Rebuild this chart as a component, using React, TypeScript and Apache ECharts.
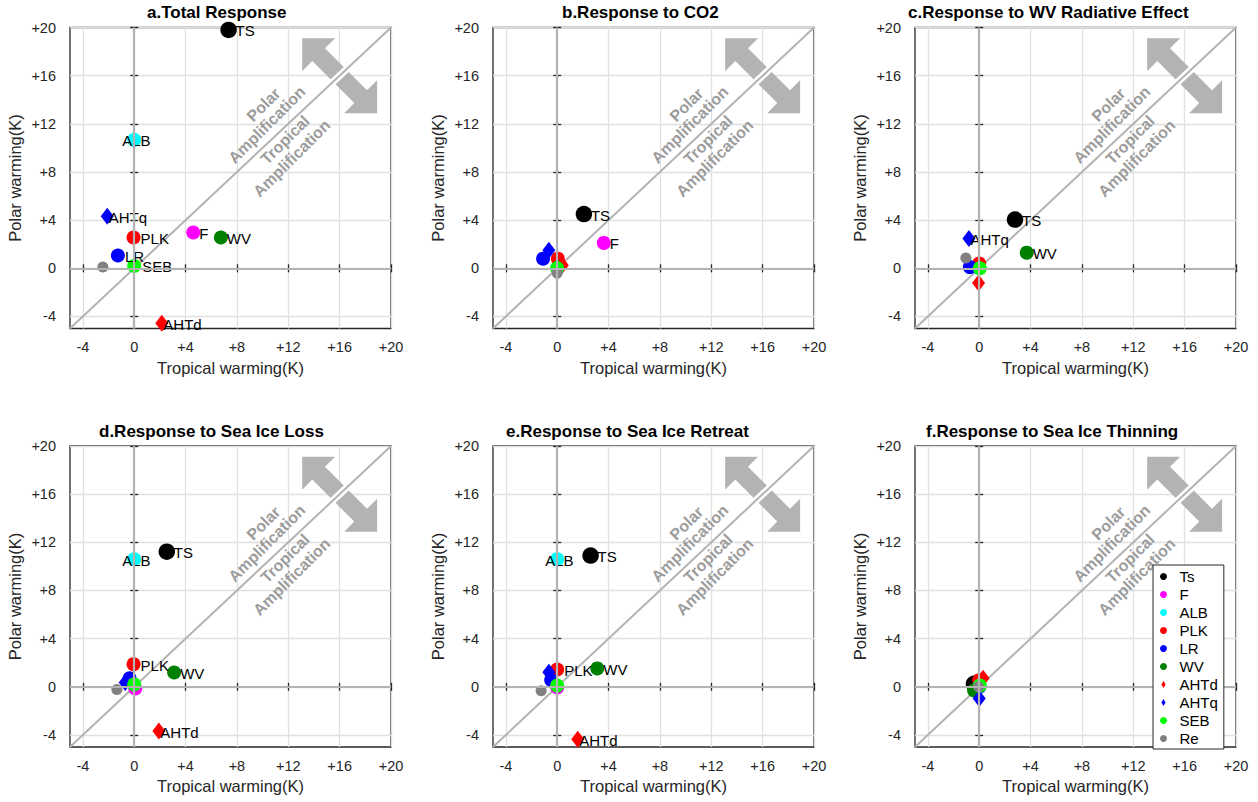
import React, { useEffect, useRef } from "react";
import * as echarts from "echarts";

// ---------- data ----------
const TERMS = ["Ts", "F", "ALB", "PLK", "LR", "WV", "AHTd", "AHTq", "SEB", "Re"];
const POINT_LABELS = ["TS", "F", "ALB", "PLK", "LR", "WV", "AHTd", "AHTq", "SEB", "Re"];
const TERM_COLORS = ["#000000", "#ff00ff", "#00ffff", "#ff0000", "#0000ff", "#008000", "#ff0000", "#0000ff", "#00ff00", "#808080"];
const TERM_SHAPES = ["circle", "circle", "circle", "circle", "circle", "circle", "diamond", "diamond", "circle", "circle"];

const PANEL_TITLES = [
  "a.Total Response",
  "b.Response to CO2",
  "c.Response to WV Radiative Effect",
  "d.Response to Sea Ice Loss",
  "e.Response to Sea Ice Retreat",
  "f.Response to Sea Ice Thinning",
];

// order: Ts, F, ALB, PLK, LR, WV, AHTd, AHTq, SEB, Re
const A_X = [7.35, 4.6, 0.0, -0.05, -1.27, 6.75, 2.15, -2.1, 0.0, -2.44];
const A_Y = [19.8, 2.97, 10.67, 2.56, 1.06, 2.56, -4.56, 4.33, 0.2, 0.11];
const A_LABELED = [1, 1, 1, 1, 1, 1, 1, 1, 1, 0];

const B_X = [2.08, 3.63, 0.0, 0.05, -1.1, 0.1, 0.4, -0.65, 0.0, 0.0];
const B_Y = [4.5, 2.11, 0.05, 0.8, 0.8, 0.1, 0.25, 1.5, 0.0, -0.4];
const B_LABELED = [1, 1, 0, 0, 0, 0, 0, 0, 0, 0];

const C_X = [2.79, 0.0, 0.0, 0.0, -0.73, 3.7, -0.05, -0.8, 0.05, -1.04];
const C_Y = [4.05, 0.0, 0.0, 0.4, 0.1, 1.3, -1.22, 2.47, 0.0, 0.86];
const C_LABELED = [1, 0, 0, 0, 0, 1, 0, 1, 0, 0];

const D_X = [2.54, 0.08, 0.0, -0.05, -0.36, 3.11, 1.92, -0.7, 0.0, -1.35];
const D_Y = [11.22, -0.14, 10.6, 1.88, 0.7, 1.19, -3.68, 0.36, 0.2, -0.22];
const D_LABELED = [1, 0, 1, 1, 0, 1, 1, 0, 0, 0];

const E_X = [2.6, 0.0, 0.0, 0.0, -0.47, 3.12, 1.6, -0.65, 0.0, -1.25];
const E_Y = [10.9, -0.05, 10.6, 1.44, 0.56, 1.53, -4.35, 1.2, 0.1, -0.33];
const E_LABELED = [1, 0, 1, 1, 0, 1, 1, 0, 0, 0];

const F_X = [-0.41, 0.0, 0.0, 0.0, 0.0, -0.4, 0.3, 0.0, 0.05, -0.05];
const F_Y = [0.25, 0.0, 0.0, 0.55, 0.0, -0.3, 0.7, -0.97, 0.1, 0.0];
const F_LABELED = [0, 0, 0, 0, 0, 0, 0, 0, 0, 0];

const PANEL_X = [A_X, B_X, C_X, D_X, E_X, F_X];
const PANEL_Y = [A_Y, B_Y, C_Y, D_Y, E_Y, F_Y];
const PANEL_LABELED = [A_LABELED, B_LABELED, C_LABELED, D_LABELED, E_LABELED, F_LABELED];

const AXIS_MIN = -5;
const AXIS_MAX = 20;
const TICKS = [-4, 0, 4, 8, 12, 16, 20];
const TICK_LABELS = ["-4", "0", "+4", "+8", "+12", "+16", "+20"];
const DIAGONAL = [[AXIS_MIN, AXIS_MIN], [AXIS_MAX, AXIS_MAX]];

// annotation anchors (data coords)
const ARROW_CENTER = [16, 16];
const GAP_FROM = [15.1, 15.1];
const GAP_TO = [16.9, 16.9];
const ANNOT_TEXTS = ["Polar", "Amplification", "Tropical", "Amplification"];
const ANNOT_POS = [[10.06, 13.58], [10.33, 11.92], [11.75, 10.67], [12.27, 9.14]];

// ---------- styling / layout ----------
const FONT = "'Liberation Sans', Arial, Helvetica, sans-serif";
const AX = "#262626";
const GRID_LEFT = [70, 493, 915];
const GRID_TOP = [27.5, 446];
const GRID_W = 321;
const GRID_H = 301;
const TITLE_LEFT = [147, 562, 908, 99, 506, 926];
const TITLE_TOP = [4, 423];
const LABEL_DX: Record<string, number> = { TS: 7, F: 6, ALB: -12, PLK: 7, LR: 7, WV: 6, AHTd: 1.5, AHTq: 1.5, SEB: 8, Re: 6 };
const DIAMOND_ICON = "path://M0,-5L3,0L0,5L-3,0Z";

function symbolSizeFor(k: number): number | number[] {
  if (TERM_SHAPES[k] === "diamond") return [13, 17];
  if (TERMS[k] === "Ts") return 16.5;
  if (TERMS[k] === "Re") return 11;
  return 14;
}

function tickFormatter(v: number) {
  const i = TICKS.indexOf(v);
  return i >= 0 ? TICK_LABELS[i] : "";
}

function annotationRender(params: any, api: any) {
  const c = api.coord(ARROW_CENTER);
  const s = Math.SQRT1_2;
  const P = (a: number, b: number) => [c[0] + (a + b) * s, c[1] + (a - b) * s];
  const L = 53, HL = 23.3, HW = 23.3, SW = 9;
  const pts = [
    P(-L, 0), P(-L + HL, HW), P(-L + HL, SW), P(L - HL, SW), P(L - HL, HW),
    P(L, 0), P(L - HL, -HW), P(L - HL, -SW), P(-L + HL, -SW), P(-L + HL, -HW),
  ];
  const g1 = api.coord(GAP_FROM);
  const g2 = api.coord(GAP_TO);
  const texts = ANNOT_TEXTS.map((t, i) => {
    const p = api.coord(ANNOT_POS[i]);
    return {
      type: "text",
      x: p[0],
      y: p[1],
      rotation: Math.PI / 4,
      style: {
        text: t,
        fill: "#9c9c9c",
        font: `bold 16px ${FONT}`,
        align: "center",
        verticalAlign: "middle",
      },
    };
  });
  return {
    type: "group",
    children: [
      { type: "polygon", shape: { points: pts }, style: { fill: "#b3b3b3" } },
      { type: "line", shape: { x1: g1[0], y1: g1[1], x2: g2[0], y2: g2[1] }, style: { stroke: "#ffffff", lineWidth: 7 } },
      ...texts,
    ],
  };
}

function buildOption() {
  const grid: any[] = [];
  const xAxis: any[] = [];
  const yAxis: any[] = [];
  const series: any[] = [];
  const title: any[] = [];

  PANEL_TITLES.forEach((pt, i) => {
    const col = i % 3;
    const row = Math.floor(i / 3);
    grid.push({
      left: GRID_LEFT[col],
      top: GRID_TOP[row],
      width: GRID_W,
      height: GRID_H,
      show: true,
      borderColor: AX,
      borderWidth: 1.3,
      backgroundColor: "#ffffff",
      containLabel: false,
      outerBoundsMode: "none",
    });
    title.push({
      text: pt,
      left: TITLE_LEFT[i],
      top: TITLE_TOP[row],
      padding: 0,
      textStyle: { fontSize: 17, fontWeight: "bold", color: "#000", fontFamily: FONT },
    });
    const base = {
      type: "value",
      min: AXIS_MIN,
      max: AXIS_MAX,
      gridIndex: i,
      axisLine: { show: false },
      axisTick: { show: true, customValues: TICKS, length: 4, inside: false, lineStyle: { color: AX, width: 1.3 } },
    };
    xAxis.push({
      ...base,
      position: "bottom",
      axisLabel: { customValues: TICKS, formatter: tickFormatter, margin: 11, fontSize: 14.5, color: AX, fontFamily: FONT },
      splitLine: { show: true, lineStyle: { color: "#e0e0e0", width: 1.3 } },
      name: "Tropical warming(K)",
      nameLocation: "middle",
      nameGap: 30.5,
      nameMoveOverlap: false,
      nameTextStyle: { fontSize: 16.5, color: AX, fontFamily: FONT },
    });
    xAxis.push({ ...base, position: "top", axisLabel: { show: false }, splitLine: { show: false } });
    yAxis.push({
      ...base,
      position: "left",
      axisLabel: { customValues: TICKS, formatter: tickFormatter, margin: 14, fontSize: 14.5, color: AX, fontFamily: FONT },
      splitLine: { show: true, lineStyle: { color: "#e0e0e0", width: 1.3 } },
      name: "Polar warming(K)",
      nameLocation: "middle",
      nameGap: 47,
      nameMoveOverlap: false,
      nameTextStyle: { fontSize: 16.5, color: AX, fontFamily: FONT },
    });
    yAxis.push({ ...base, position: "right", axisLabel: { show: false }, splitLine: { show: false } });

    const xi = 2 * i;
    series.push({
      type: "custom",
      xAxisIndex: xi,
      yAxisIndex: xi,
      coordinateSystem: "cartesian2d",
      data: [ARROW_CENTER],
      renderItem: annotationRender,
      silent: true,
      z: 1,
    });
    series.push({
      type: "line",
      xAxisIndex: xi,
      yAxisIndex: xi,
      data: DIAGONAL,
      symbol: "none",
      silent: true,
      lineStyle: { color: "#b3b3b3", width: 2 },
      z: 2,
      markLine: {
        silent: true,
        symbol: ["none", "none"],
        label: { show: false },
        lineStyle: { color: "#b3b3b3", width: 2.2, type: "solid" },
        data: [{ xAxis: 0 }, { yAxis: 0 }],
      },
    });
    TERMS.forEach((term, k) => {
      const lbl = POINT_LABELS[k];
      series.push({
        type: "scatter",
        name: term,
        xAxisIndex: xi,
        yAxisIndex: xi,
        symbol: TERM_SHAPES[k],
        symbolSize: symbolSizeFor(k),
        itemStyle: { color: TERM_COLORS[k], opacity: 1 },
        z: 3,
        label: {
          show: false,
          position: "inside",
          align: "left",
          verticalAlign: "middle",
          offset: [LABEL_DX[lbl], 1],
          color: "#000",
          fontSize: 15,
          fontFamily: FONT,
          textBorderWidth: 0,
          formatter: lbl,
        },
        data: [{ value: [PANEL_X[i][k], PANEL_Y[i][k]], label: { show: !!PANEL_LABELED[i][k] } }],
      });
    });
  });

  return {
    animation: false,
    backgroundColor: "#ffffff",
    textStyle: { fontFamily: FONT },
    title,
    grid,
    xAxis,
    yAxis,
    series,
    legend: {
      data: TERMS.map((t, k) => ({ name: t, icon: TERM_SHAPES[k] === "diamond" ? DIAMOND_ICON : "circle" })),
      orient: "vertical",
      left: 1153,
      top: 565,
      itemWidth: 22,
      itemHeight: 7,
      itemGap: 3,
      padding: [4, 6, 3, 7],
      borderColor: AX,
      borderWidth: 1,
      backgroundColor: "#ffffff",
      selectedMode: false,
      textStyle: { fontSize: 15, lineHeight: 14, color: "#000", fontFamily: FONT },
      z: 10,
    },
  };
}

export default function App() {
  const ref = useRef<HTMLDivElement>(null);
  useEffect(() => {
    const chart = echarts.init(ref.current!, null, { renderer: "svg" });
    chart.setOption(buildOption() as any);
    return () => chart.dispose();
  }, []);
  return (
    <div
      ref={ref}
      style={{ position: "fixed", left: 0, top: 0, width: 1258, height: 802, background: "#fff" }}
    />
  );
}
